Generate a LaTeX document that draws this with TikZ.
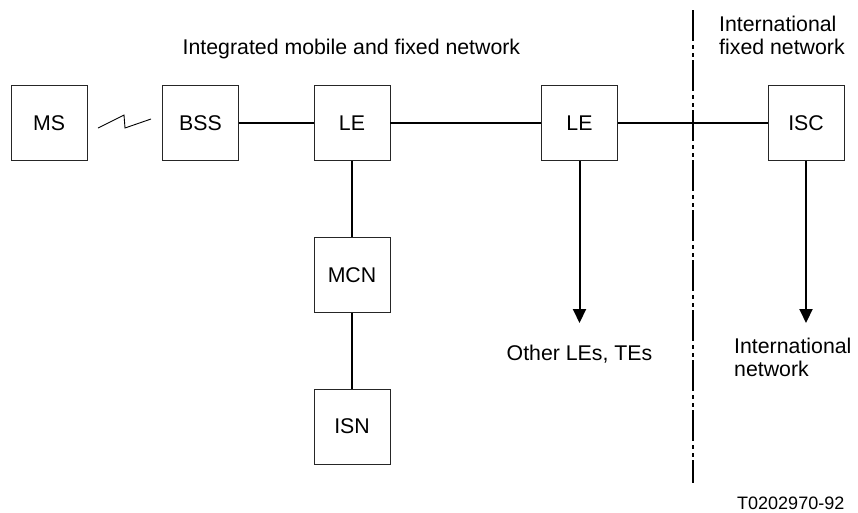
\documentclass[tikz,border=0pt]{standalone}
\usepackage{fontspec}
\setmainfont{Liberation Sans}
\usetikzlibrary{arrows.meta}
\begin{document}
\begin{tikzpicture}[x=1pt,y=-1pt,
  box/.style={draw=black!85,line width=0.9pt,minimum width=76pt,minimum height=75pt,inner sep=0pt,font=\fontsize{21.3}{23}\selectfont},
  conn/.style={line width=2pt},
  arr/.style={line width=2pt,-{Triangle[length=14pt,width=13pt]}},
  lbl/.style={inner sep=0pt,font=\fontsize{21.3}{23}\selectfont,align=left},
  bnd/.style={line width=2pt,dash pattern=on 31pt off 4pt on 4pt off 4pt on 4pt off 3pt}]
\useasboundingbox (0,0) rectangle (858,512);
\node[box] (ms) at (49,123) {MS};
\node[box] (bss) at (200.5,123) {BSS};
\node[box] (le1) at (352,123) {LE};
\node[box] (le2) at (579.5,123) {LE};
\node[box] (isc) at (806,123) {ISC};
\node[box] (mcn) at (352,275) {MCN};
\node[box] (isn) at (352,426.5) {ISN};
\coordinate (bt) at (693,10);
\coordinate (bb) at (693,483);
\draw[bnd] (bt) -- (bb);
\draw[conn] (bss) -- (le1);
\draw[conn] (le1) -- (le2);
\draw[conn] (le2) -- (isc);
\draw[conn] (le1) -- (mcn);
\draw[conn] (mcn) -- (isn);
\coordinate (a1) at (579.5,323);
\coordinate (a2) at (806,323);
\draw[arr] (le2) -- (a1);
\draw[arr] (isc) -- (a2);
\draw[line width=0.9pt] (98,128) -- (124,115) -- (125,128) -- (151,119);
\node[lbl,anchor=base west] (t1) at (182.5,54) {Integrated mobile and fixed network};
\node[lbl,anchor=base west] (t2) at (719,31) {International};
\node[lbl,anchor=base west] (t3) at (719,54) {fixed network};
\node[lbl,anchor=base] (t4) at (579.5,360) {Other LEs, TEs};
\node[lbl,anchor=base west] (t5) at (734,353) {International};
\node[lbl,anchor=base west] (t6) at (734,376) {network};
\node[inner sep=0pt,anchor=base west,font=\fontsize{18}{20}\selectfont] (t7) at (737,509) {T0202970-92};
\end{tikzpicture}
\end{document}
